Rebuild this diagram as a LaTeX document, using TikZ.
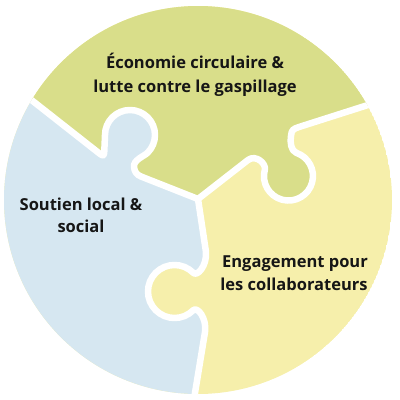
\documentclass[tikz,border=0pt]{standalone}
\usepackage{fontspec}
\setmainfont{Open Sans}
\definecolor{pgreen}{RGB}{217,222,138}
\definecolor{pyellow}{RGB}{246,239,171}
\definecolor{pblue}{RGB}{214,231,241}
\definecolor{txt}{RGB}{22,22,22}
\tikzset{
  band/.style={white, line width=6.5pt, line join=round, line cap=round},
  lbl/.style={anchor=base, inner sep=0pt, text=txt, font=\bfseries\fontsize{16.5}{19}\selectfont}
}
\begin{document}
\begin{tikzpicture}[x=1pt,y=-1pt]
\useasboundingbox (0,0) rectangle (400,400);
\coordinate (C) at (198,199);
\begin{scope}
\clip (198,200) circle[radius=194];
\fill[pyellow] (198,200) circle[radius=194];
% green piece
\fill[pgreen] (C) -- (248,160) .. controls (256,154) and (266.4,163.9) .. (264.8,169.7)
  arc[start angle=195, end angle=-71, radius=24.5]
  .. controls (290.8,150.9) and (290,142) .. (291,136)
  .. controls (291.5,130) and (293,129) .. (299,127) -- (368,105) -- (392,97)
  -- (430,80) -- (430,-30) -- (-30,-30) -- (-30,80) -- (20,91)
  -- (97.7,152.1) .. controls (104,157) .. (104.4,149) -- (105,135)
  arc[start angle=180, end angle=405, radius=25]
  .. controls (144.2,156.2) and (133,160) .. (134,167)
  .. controls (134.5,172) and (137,175) .. (141,176.5) -- cycle;
% blue piece
\fill[pblue] (C) -- (206,252) .. controls (207,266) and (197,277) .. (193.24,272.76)
  arc[start angle=-45, end angle=-315, radius=26.5]
  .. controls (197.2,306.2) and (207,318) .. (205,332) -- (195,393) -- (194,420)
  -- (-30,420) -- (-30,80) -- (20,91)
  -- (97.7,152.1) .. controls (104,157) .. (104.4,149) -- (105,135)
  arc[start angle=180, end angle=405, radius=25]
  .. controls (144.2,156.2) and (133,160) .. (134,167)
  .. controls (134.5,172) and (137,175) .. (141,176.5) -- cycle;
% white separations
\draw[band] (C) -- (248,160) .. controls (256,154) and (266.4,163.9) .. (264.8,169.7)
  arc[start angle=195, end angle=-71, radius=24.5]
  .. controls (290.8,150.9) and (290,142) .. (291,136)
  .. controls (291.5,130) and (293,129) .. (299,127) -- (368,105) -- (392,97) -- (420,88);
\draw[band] (10,83) -- (20,91)
  -- (97.7,152.1) .. controls (104,157) .. (104.4,149) -- (105,135)
  arc[start angle=180, end angle=405, radius=25]
  .. controls (144.2,156.2) and (133,160) .. (134,167)
  .. controls (134.5,172) and (137,175) .. (141,176.5) -- (C);
\draw[band] (C) -- (206,252) .. controls (207,266) and (197,277) .. (193.24,272.76)
  arc[start angle=-45, end angle=-315, radius=26.5]
  .. controls (197.2,306.2) and (207,318) .. (205,332) -- (195,393) -- (194,420);
\end{scope}
\node[lbl] (g1) at (195,68) {Économie circulaire \&};
\node[lbl] (g2) at (195,92) {lutte contre le gaspillage};
\node[lbl] (b1) at (81,210) {Soutien local \&};
\node[lbl] (b2) at (81,232) {social};
\node[lbl] (y1) at (295,267) {Engagement pour};
\node[lbl] (y2) at (294,290) {les collaborateurs};
\end{tikzpicture}
\end{document}
